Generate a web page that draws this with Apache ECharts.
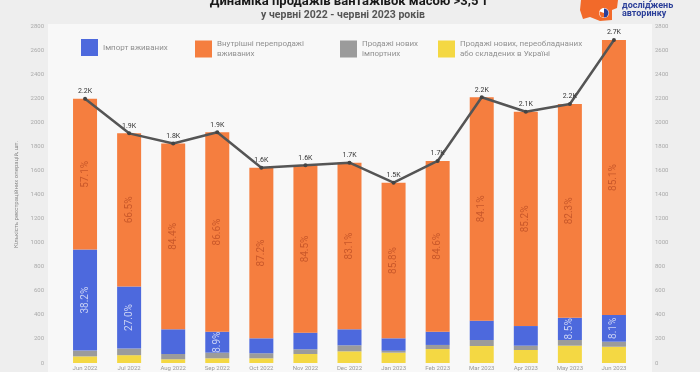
<!DOCTYPE html>
<html><head><meta charset="utf-8">
<script src="https://cdn.jsdelivr.net/npm/echarts@6/dist/echarts.min.js"></script>
<style>html,body{margin:0;padding:0;background:#eeeeee;}#c{width:700px;height:372px;}</style>
</head><body><div id="c"></div>
<script>
const months = ['Jun 2022','Jul 2022','Aug 2022','Sep 2022','Oct 2022','Nov 2022','Dec 2022','Jan 2023','Feb 2023','Mar 2023','Apr 2023','May 2023','Jun 2023'];
const importUsed = [839, 516, 205, 174, 124, 138, 133, 103, 110, 161, 163, 185, 222];
const resaleUsed = [1253, 1272, 1544, 1657, 1418, 1391, 1384, 1293, 1419, 1856, 1781, 1776, 2285];
const newImported = [48, 55, 44, 47, 42, 39, 50, 16, 34, 50, 36, 47, 42];
const newLocal = [55, 65, 31, 39, 39, 75, 97, 86, 116, 141, 108, 144, 135];
const totals = [2195, 1908, 1824, 1917, 1623, 1643, 1664, 1498, 1679, 2208, 2088, 2152, 2684];
const resalePct = ['57.1%','66.5%','84.4%','86.6%','87.2%','84.5%','83.1%','85.8%','84.6%','84.1%','85.2%','82.3%','85.1%'];
const importPct = ['38.2%','27.0%','','8.9%','','','','','','','','8.5%','8.1%'];
const yTicks = {min: 0, max: 2800, interval: 200};

const names = ['Імпорт вживаних','Внутрішні перепродажі\nвживаних','Продажі нових\nімпортних','Продажі нових, переобладнаних\nабо складених в Україні'];
const colors = {blue:'#4d69dd', orange:'#f57e3f', gray:'#9b9b9b', yellow:'#f4d843'};

const chart = echarts.init(document.getElementById('c'), null, {renderer:'canvas'});
const font = 'Roboto, "Noto Sans", sans-serif';
const barW = 24;

function legendItem(name, left) {
  return {
    data:[name], left:left, top:34, itemWidth:17, itemHeight:17, icon:'rect',
    textStyle:{fontSize:8, color:'#909090', fontFamily:font, lineHeight:10}, selectedMode:false
  };
}

chart.setOption({
  animation:false,
  backgroundColor:'#eeeeee',
  textStyle:{fontFamily:font},
  graphic:[
    {type:'rect', left:48, top:24, shape:{width:604, height:348}, style:{fill:'#f8f8f8'}, z:-10},
    {type:'text', x:349, y:-5, style:{text:'Динаміка продажів вантажівок масою >3,5 т', font:'bold 13px Roboto, sans-serif', fill:'#1a1a1a', align:'center'}},
    {type:'text', x:343, y:10, style:{text:'у червні 2022 - червні 2023 років', font:'bold 10.5px Roboto, sans-serif', fill:'#555', align:'center'}},
    {type:'polygon', shape:{points:[[581,0],[618,0],[617,8],[612,10],[612,20],[600,21],[590,17],[583,19],[580,10]]}, style:{fill:'#f26a2a'}},
    {type:'circle', shape:{cx:604, cy:13, r:5}, style:{fill:'#ffffff'}},
    {type:'sector', shape:{cx:604, cy:13, r:4.5, startAngle:-Math.PI/2, endAngle:Math.PI/2}, style:{fill:'#2b3f99'}},
    {type:'sector', shape:{cx:604, cy:13, r:4.5, startAngle:Math.PI/2, endAngle:Math.PI*1.1}, style:{fill:'#f26a2a'}},
    {type:'text', x:622, y:-7, style:{text:'Інститут', font:'bold 9px Roboto, sans-serif', fill:'#2b3f99'}},
    {type:'text', x:622, y:1, style:{text:'досліджень', font:'bold 9px Roboto, sans-serif', fill:'#2b3f99'}},
    {type:'text', x:622, y:9, style:{text:'авторинку', font:'bold 9px Roboto, sans-serif', fill:'#2b3f99'}}
  ],
  legend:[
    legendItem(names[0], 76),
    legendItem(names[1], 190),
    legendItem(names[2], 335),
    legendItem(names[3], 433)
  ],
  grid:{left:63, right:64, top:26, bottom:9},
  xAxis:{
    type:'category', data:months,
    axisLine:{show:false}, axisTick:{show:false},
    axisLabel:{fontSize:6, color:'#999', margin:2}
  },
  yAxis:[
    {type:'value', min:yTicks.min, max:yTicks.max, interval:yTicks.interval,
     name:'Кількість реєстраційних операцій, шт.', nameLocation:'middle', nameGap:36,
     nameTextStyle:{fontSize:6, color:'#888'},
     splitLine:{show:false}, axisLine:{show:false}, axisTick:{show:false},
     axisLabel:{fontSize:6, color:'#aaa', margin:19, formatter:v=>String(v)}},
    {type:'value', min:yTicks.min, max:yTicks.max, interval:yTicks.interval, position:'right',
     splitLine:{show:false}, axisLine:{show:false}, axisTick:{show:false},
     axisLabel:{fontSize:6, color:'#aaa', margin:19, formatter:v=>String(v)}}
  ],
  series:[
    {name:names[3], type:'bar', stack:'s', barWidth:barW, data:newLocal, itemStyle:{color:colors.yellow}},
    {name:names[2], type:'bar', stack:'s', barWidth:barW, data:newImported, itemStyle:{color:colors.gray}},
    {name:names[0], type:'bar', stack:'s', barWidth:barW, data:importUsed, itemStyle:{color:colors.blue},
     label:{show:true, position:'inside', rotate:90, fontSize:10, color:'#c9d1f4',
       formatter:p=>importPct[p.dataIndex]}},
    {name:names[1], type:'bar', stack:'s', barWidth:barW, data:resaleUsed, itemStyle:{color:colors.orange},
     label:{show:true, position:'inside', rotate:90, fontSize:10, color:'#c9582a',
       formatter:p=>resalePct[p.dataIndex]}},
    {name:'total', type:'line', data:totals, z:10,
     lineStyle:{color:'#555', width:2.5}, itemStyle:{color:'#444'},
     symbol:'circle', symbolSize:4,
     label:{show:true, position:'top', distance:2, fontSize:7, color:'#333',
       formatter:p=>(p.value/1000).toFixed(1)+'K'}}
  ]
});
</script></body></html>
